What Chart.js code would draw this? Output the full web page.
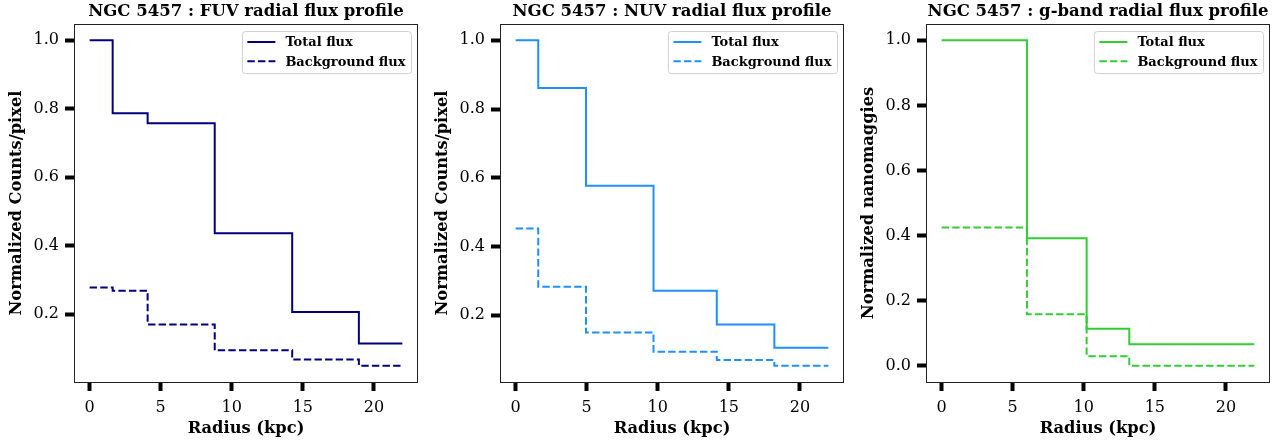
<!DOCTYPE html>
<html>
<head>
<meta charset="utf-8">
<script src="https://cdn.jsdelivr.net/npm/chart.js@4.4.0/dist/chart.umd.min.js"></script>
<style>
  html, body { margin: 0; padding: 0; background: #fff; }
  #wrap { position: relative; width: 1284px; height: 442px; }
  .panel { position: absolute; top: 0; width: 426px; height: 442px; }
</style>
</head>
<body>
<div id="wrap">
  <div class="panel" style="left:0px"><canvas id="fuvChart"></canvas></div>
  <div class="panel" style="left:426px"><canvas id="nuvChart"></canvas></div>
  <div class="panel" style="left:852px"><canvas id="gChart"></canvas></div>
</div>
<script>
// bin edges (kpc) and normalized values; last value repeated to close the step
const radiusFUV = [0, 1.62, 4.08, 8.8, 14.25, 18.94, 22];
const totalFUV  = [1.0, 0.787, 0.758, 0.437, 0.207, 0.115, 0.115];
const bgFUV     = [0.278, 0.269, 0.170, 0.095, 0.068, 0.050, 0.050];

const radiusNUV = [0, 1.59, 4.95, 9.7, 14.15, 18.2, 22];
const totalNUV  = [1.0, 0.861, 0.577, 0.271, 0.173, 0.105, 0.105];
const bgNUV     = [0.452, 0.283, 0.150, 0.094, 0.070, 0.053, 0.053];

const radiusG = [0, 6.0, 10.2, 13.2, 22];
const totalG  = [1.0, 0.392, 0.114, 0.066, 0.066];
const bgG     = [0.425, 0.158, 0.029, 0.0, 0.0];

const xTicks = [0, 5, 10, 15, 20];
const yTicksUV = [0.2, 0.4, 0.6, 0.8, 1.0];
const yTicksG = [0.0, 0.2, 0.4, 0.6, 0.8, 1.0];
const legendLabels = ["Total flux", "Background flux"];

Chart.defaults.font.family = "'DejaVu Serif', serif";
Chart.defaults.color = "#000";

// matplotlib style 5% margins
function padRange(values) {
  const lo = Math.min(...values), hi = Math.max(...values);
  const pad = (hi - lo) * 0.05;
  return [lo - pad, hi + pad];
}

function toPoints(xs, ys) {
  return xs.map((x, i) => ({ x: x, y: ys[i] }));
}

// title, axes frame and boxed legend like matplotlib
const decorPlugin = {
  id: "decor",
  afterDraw(chart, args, opts) {
    const ctx = chart.ctx;
    const a = chart.chartArea;
    ctx.save();

    ctx.strokeStyle = "#222";
    ctx.lineWidth = 1;
    ctx.strokeRect(Math.round(a.left) + 0.5, Math.round(a.top) + 0.5,
      Math.round(a.right - a.left) - 1, Math.round(a.bottom - a.top));

    ctx.fillStyle = "#000";
    ctx.font = "bold 16.5px 'DejaVu Serif'";
    ctx.textAlign = "center";
    ctx.textBaseline = "alphabetic";
    ctx.fillText(opts.title, (a.left + a.right) / 2, 16);

    // legend
    ctx.font = "bold 13px 'DejaVu Serif'";
    const textW = Math.max(...legendLabels.map(t => ctx.measureText(t).width));
    const w = 5 + 28 + 10 + textW + 6;
    const h = 42;
    const x0 = a.right - 6.5 - w;
    const y0 = a.top + 7.5;
    ctx.beginPath();
    ctx.roundRect(x0, y0, w, h, 3);
    ctx.fillStyle = "rgba(255,255,255,0.8)";
    ctx.fill();
    ctx.strokeStyle = "#d0d0d0";
    ctx.lineWidth = 1;
    ctx.stroke();

    chart.data.datasets.forEach((ds, i) => {
      const cy = y0 + 10.5 + i * 19.3;
      ctx.beginPath();
      ctx.setLineDash(ds.borderDash || []);
      ctx.strokeStyle = ds.borderColor;
      ctx.lineWidth = ds.borderWidth;
      ctx.moveTo(x0 + 5, cy);
      ctx.lineTo(x0 + 33, cy);
      ctx.stroke();
      ctx.setLineDash([]);
      ctx.fillStyle = "#000";
      ctx.textAlign = "left";
      ctx.textBaseline = "middle";
      ctx.fillText(legendLabels[i], x0 + 43, cy + 1);
    });
    ctx.restore();
  }
};

function makePanel(id, title, yLabel, color, radius, total, bg, yTicks) {
  const ctx = document.getElementById(id);
  if (!ctx) return;
  const [xMin, xMax] = padRange(radius);
  const [yMin, yMax] = padRange(total.concat(bg));

  new Chart(ctx, {
    type: "line",
    data: {
      datasets: [{
        label: legendLabels[0],
        data: toPoints(radius, total),
        stepped: "before",
        borderColor: color,
        borderWidth: 2,
        pointRadius: 0,
        fill: false
      }, {
        label: legendLabels[1],
        data: toPoints(radius, bg),
        stepped: "before",
        borderColor: color,
        borderWidth: 2,
        borderDash: [7.4, 3.2],
        pointRadius: 0,
        fill: false
      }]
    },
    options: {
      responsive: true,
      maintainAspectRatio: false,
      animation: false,
      events: [],
      layout: { padding: { top: 24, right: 8, left: 0, bottom: 0 } },
      plugins: {
        legend: { display: false },
        tooltip: { enabled: false },
        decor: { title: title }
      },
      scales: {
        x: {
          type: "linear",
          min: xMin,
          max: xMax,
          afterBuildTicks: scale => { scale.ticks = xTicks.map(v => ({ value: v })); },
          afterFit: scale => { scale.height = 60; },
          grid: { drawOnChartArea: false, tickLength: 9, tickWidth: 4, tickColor: "#000" },
          border: { display: false },
          ticks: { font: { size: 16 }, color: "#000", padding: 7, autoSkip: false, maxRotation: 0 },
          title: {
            display: true,
            text: "Radius (kpc)",
            font: { size: 16.3, weight: "bold" },
            color: "#000",
            padding: { top: 0, bottom: 3 }
          }
        },
        y: {
          min: yMin,
          max: yMax,
          afterBuildTicks: scale => { scale.ticks = yTicks.map(v => ({ value: v })); },
          afterFit: scale => { scale.width = 74; },
          grid: { drawOnChartArea: false, tickLength: 9, tickWidth: 4, tickColor: "#000" },
          border: { display: false },
          ticks: {
            font: { size: 16 },
            color: "#000",
            padding: 6,
            autoSkip: false,
            callback: v => Number(v).toFixed(1)
          },
          title: {
            display: true,
            text: yLabel,
            font: { size: 16.3, weight: "bold" },
            color: "#000",
            padding: { top: 7, bottom: 0 }
          }
        }
      }
    },
    plugins: [decorPlugin]
  });
}

makePanel("fuvChart", "NGC 5457 : FUV radial flux profile", "Normalized Counts/pixel",
  "#000080", radiusFUV, totalFUV, bgFUV, yTicksUV);
makePanel("nuvChart", "NGC 5457 : NUV radial flux profile", "Normalized Counts/pixel",
  "#1e90ff", radiusNUV, totalNUV, bgNUV, yTicksUV);
makePanel("gChart", "NGC 5457 : g-band radial flux profile", "Normalized nanomaggies",
  "#32cd32", radiusG, totalG, bgG, yTicksG);
</script>
</body>
</html>
